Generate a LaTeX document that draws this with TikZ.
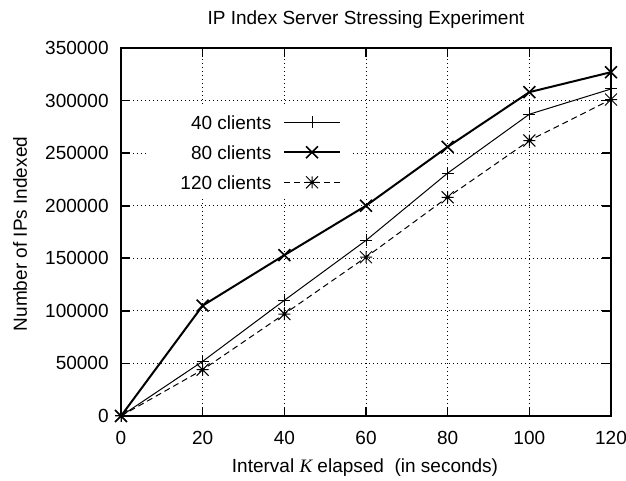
\documentclass[tikz,border=0pt]{standalone}
\usepackage{fontspec}
\setmainfont{Liberation Sans}
\newfontfamily\kfont{Liberation Serif}
\usepackage{tikz}
\usetikzlibrary{plotmarks}
\def\ticklen{4.5pt}
\def\xmax{120}
\def\ymax{350}
\pgfdeclareplotmark{star8}{%
  \pgfpathmoveto{\pgfqpoint{-\pgfplotmarksize}{0pt}}\pgfpathlineto{\pgfqpoint{\pgfplotmarksize}{0pt}}%
  \pgfpathmoveto{\pgfqpoint{0pt}{-\pgfplotmarksize}}\pgfpathlineto{\pgfqpoint{0pt}{\pgfplotmarksize}}%
  \pgfpathmoveto{\pgfqpoint{-\pgfplotmarksize}{-\pgfplotmarksize}}\pgfpathlineto{\pgfqpoint{\pgfplotmarksize}{\pgfplotmarksize}}%
  \pgfpathmoveto{\pgfqpoint{-\pgfplotmarksize}{\pgfplotmarksize}}\pgfpathlineto{\pgfqpoint{\pgfplotmarksize}{-\pgfplotmarksize}}%
  \pgfusepathqstroke}
\tikzset{
  gridline/.style={line width=0.5pt, dash pattern=on 0.5pt off 1.5pt},
  axis/.style={line width=0.8pt},
  lbl/.style={inner sep=0pt},
  c40/.style={line width=0.5pt, mark=+, mark size=3pt, mark options={solid}},
  c80/.style={line width=1pt, mark=x, mark size=4.2pt, mark options={solid, line width=0.8pt}},
  c120/.style={line width=0.5pt, dash pattern=on 3pt off 2pt, mark=star8, mark size=3pt, mark options={solid}},
  data/.style={xshift=60.5pt, yshift=32.5pt, x=2.041667pt, y=0.525714pt},
}

\begin{document}
\begin{tikzpicture}[x=0.5pt, y=0.5pt, font=\fontsize{9.5}{11.4}\selectfont]
\useasboundingbox (0,0) rectangle (626,481);

\begin{scope}[data]
\foreach \gx in {20,40,...,100} \draw[gridline] (\gx,0) -- (\gx,\ymax);
\foreach \gy in {50,100,...,300} \draw[gridline] (0,\gy) -- (\xmax,\gy);
\end{scope}

% key area
\fill[white] (147,283) rectangle (352,376);

\begin{scope}[data]
\foreach \gx in {20,40,...,100} {
  \draw[axis] (\gx,0) -- ++(0,\ticklen);
  \draw[axis] (\gx,\ymax) -- ++(0,-\ticklen);
}
\foreach \gy in {50,100,...,300} {
  \draw[axis] (0,\gy) -- ++(\ticklen,0);
  \draw[axis] (\xmax,\gy) -- ++(-\ticklen,0);
}
\foreach \gx in {0,20,...,120}
  \node[lbl, anchor=base] (xt\gx) at ([yshift=-14.5pt]\gx,0) {\gx};
\foreach \gy in {0,50,...,350}
  \node[lbl, anchor=east] (yt\gy) at ([xshift=-6pt]0,\gy) {\ifnum\gy=0 0\else\gy000\fi};
\draw[axis] (0,0) rectangle (\xmax,\ymax);

\draw[c40] plot coordinates {(0,0) (20,52) (40,110) (60,167) (80,231) (100,287) (120,311)};
\draw[c80] plot coordinates {(0,0) (20,105) (40,153) (60,200) (80,256) (100,308) (120,327)};
\draw[c120] plot coordinates {(0,0) (20,44) (40,97) (60,151) (80,208) (100,262) (120,301)};
\end{scope}

\node[lbl, anchor=base] (title) at (366,456) {IP Index Server Stressing Experiment};
\node[lbl, anchor=base] (xlabel) at (365,8) {Interval {\kfont\itshape K} elapsed\ \ (in seconds)};
\node[lbl, anchor=base, rotate=90] (ylabel) at (27,247) {Number of IPs Indexed};

\node[lbl, anchor=east] (k40) at (271.7,358.7) {40 clients};
\node[lbl, anchor=east] (k80) at (271.7,328.7) {80 clients};
\node[lbl, anchor=east] (k120) at (271.7,298.7) {120 clients};
\draw[c40, mark indices={2}] plot coordinates {(284.3,358.7) (312,358.7) (340,358.7)};
\draw[c80, mark indices={2}] plot coordinates {(284.3,328.7) (312,328.7) (340,328.7)};
\draw[c120, mark indices={2}] plot coordinates {(284.3,298.7) (312,298.7) (340,298.7)};
\end{tikzpicture}
\end{document}
